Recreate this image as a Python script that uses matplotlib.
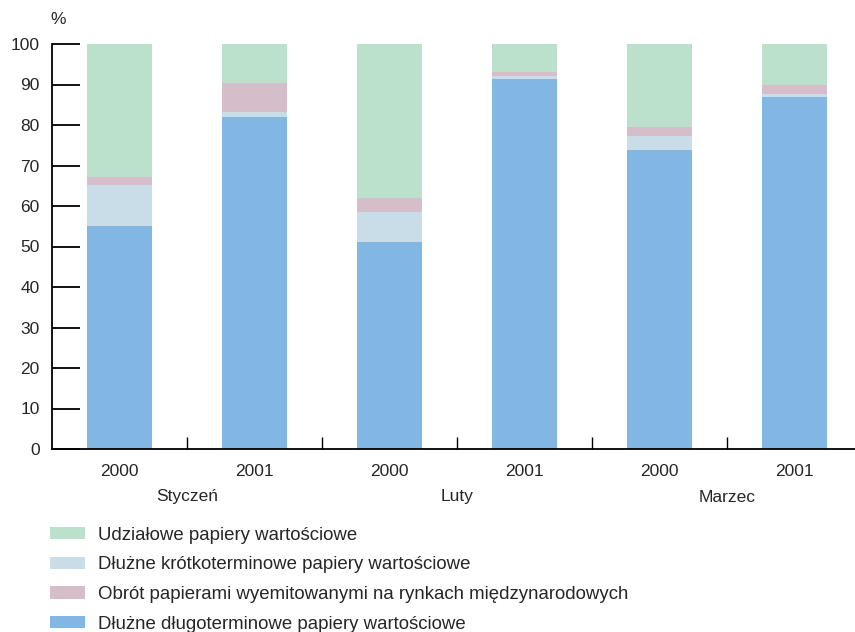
import matplotlib.pyplot as plt
import numpy as np

# Shares of turnover by instrument type (%), stacked bottom -> top
years = ['2000', '2001', '2000', '2001', '2000', '2001']
months = ['Styczeń', 'Luty', 'Marzec']

dlugoterminowe = [55.1, 82.0, 51.1, 91.4, 73.8, 86.9]
krotkoterminowe = [10.1, 1.2, 7.4, 0.7, 3.5, 0.8]
miedzynarodowe = [2.0, 7.2, 3.5, 1.1, 2.2, 2.2]
udzialowe = [32.8, 9.6, 38.0, 6.8, 20.5, 10.1]

labels = {
    'udz': 'Udziałowe papiery wartościowe',
    'krot': 'Dłużne krótkoterminowe papiery wartościowe',
    'mie': 'Obrót papierami wyemitowanymi na rynkach międzynarodowych',
    'dlu': 'Dłużne długoterminowe papiery wartościowe',
}

colors = {
    'udz': '#bbe0cb',
    'krot': '#c9dde8',
    'mie': '#d6bdca',
    'dlu': '#82b7e3',
}

plt.rcParams['font.family'] = ['Liberation Sans', 'DejaVu Sans']
text_color = '#262626'

fig = plt.figure(figsize=(8.55, 6.32), dpi=100)
ax = fig.add_axes([52 / 855, 183 / 632, 803 / 855, 405 / 632])

x = np.arange(len(years))
w = 0.48
bottom = np.zeros(len(years))
handles = {}
for key, vals in [('dlu', dlugoterminowe), ('krot', krotkoterminowe),
                  ('mie', miedzynarodowe), ('udz', udzialowe)]:
    handles[key] = ax.bar(x, vals, w, bottom=bottom, color=colors[key],
                          linewidth=0, label=labels[key])
    bottom += np.array(vals)

ax.set_xlim(-0.5, 5.45)
ax.set_ylim(0, 100)

for s in ['top', 'right']:
    ax.spines[s].set_visible(False)
for s in ['left', 'bottom']:
    ax.spines[s].set_linewidth(1.3)
    ax.spines[s].set_color('black')

ax.set_yticks(np.arange(0, 101, 10))
ax.tick_params(axis='y', direction='in', length=20, width=1.3,
               labelsize=12.5, labelcolor=text_color, pad=9)
ax.set_xticks(np.arange(0.5, 5, 1))
ax.set_xticklabels([])
ax.tick_params(axis='x', direction='in', length=9, width=1.0)

# year labels under each bar, month labels under each pair
for i, yr in enumerate(years):
    ax.text(i, -3.6, yr, ha='center', va='top', fontsize=12.5,
            color=text_color)
for j, m in enumerate(months):
    ax.text(2 * j + 0.5, -10.0, m, ha='center', va='top', fontsize=12.5,
            color=text_color)

fig.text(58 / 855, 1 - 19 / 632, '%', ha='center', va='center',
         fontsize=12.5, color=text_color)

order = ['udz', 'krot', 'mie', 'dlu']
fig.legend([handles[k] for k in order], [labels[k] for k in order],
           loc='upper left', bbox_to_anchor=(33 / 855, 1 - 510 / 632),
           frameon=False, fontsize=13.4, handlelength=1.88, handleheight=0.66,
           handletextpad=0.7, labelspacing=0.68, labelcolor=text_color)

fig.savefig('out.png', dpi=100)
